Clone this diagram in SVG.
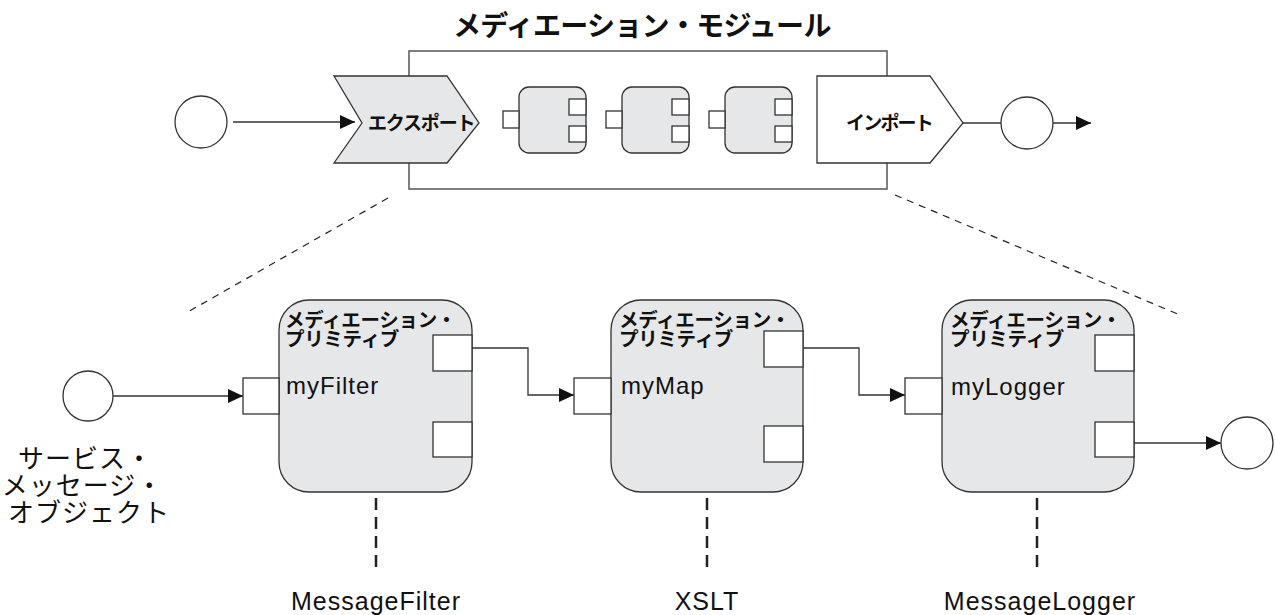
<svg xmlns="http://www.w3.org/2000/svg" width="1275" height="615" viewBox="0 0 1275 615">
  <defs>
    <marker id="arrow" markerUnits="userSpaceOnUse" markerWidth="16" markerHeight="15" refX="15" refY="7" orient="auto">
      <path d="M0,0 L15,7 L0,14 z" fill="#111"/>
    </marker>
  </defs>
  <style>
    .ln { fill: none; stroke: #333; stroke-width: 1.3; }
    .gray { fill: #e6e7e8; stroke: #333; stroke-width: 1.3; }
    .white { fill: #fff; stroke: #333; stroke-width: 1.3; }
    .box { fill: none; stroke: #555; stroke-width: 1.5; }
    .dash { fill: none; stroke: #222; stroke-width: 1.2; stroke-dasharray: 7 6; }
    .vdash { fill: none; stroke: #222; stroke-width: 2.5; stroke-dasharray: 12 7; }
    .jp { font-family: "Noto Sans CJK JP", "Noto Sans", sans-serif; fill: #111; }
    .jpb { font-family: "Noto Sans CJK JP", "Noto Sans", sans-serif; font-weight: bold; fill: #111; }
    .lbl { font-family: "Noto Sans CJK JP", "Noto Sans", sans-serif; font-weight: bold; fill: #111; font-size: 19.5px; letter-spacing: -0.3px; }
    .lat { font-family: "Liberation Sans", Arial, sans-serif; fill: #111; }
  </style>

  <rect width="1275" height="615" fill="#fff"/>

  <!-- Top: mediation module -->
  <g id="module">
    <text class="jpb" x="453" y="36" font-size="28" letter-spacing="-0.7">メディエーション・モジュール</text>
    <rect class="box" x="409" y="51" width="478" height="138"/>
  </g>

  <g id="top-in-circle">
    <circle class="white" cx="201" cy="122" r="26"/>
  </g>

  <g id="export">
    <polygon class="gray" points="334,76 447,76 479,123 447,163 334,163 362,123"/>
    <text class="jpb" x="368" y="130" font-size="19" letter-spacing="-1.2">エクスポート</text>
  </g>

  <g id="mini-primitive-1">
    <rect class="gray" x="519" y="87" width="67" height="66" rx="10"/>
    <rect class="white" x="503" y="111" width="16" height="17"/>
    <rect class="white" x="569" y="99" width="17" height="16"/>
    <rect class="white" x="569" y="126" width="17" height="16"/>
  </g>
  <g id="mini-primitive-2">
    <rect class="gray" x="622" y="87" width="67" height="66" rx="10"/>
    <rect class="white" x="606" y="111" width="16" height="17"/>
    <rect class="white" x="672" y="99" width="17" height="16"/>
    <rect class="white" x="672" y="126" width="17" height="16"/>
  </g>
  <g id="mini-primitive-3">
    <rect class="gray" x="725" y="87" width="67" height="66" rx="10"/>
    <rect class="white" x="709" y="111" width="16" height="17"/>
    <rect class="white" x="775" y="99" width="17" height="16"/>
    <rect class="white" x="775" y="126" width="17" height="16"/>
  </g>

  <g id="import">
    <polygon class="white" points="817,76 930,76 963,123 930,163 817,163"/>
    <text class="jpb" x="846" y="130" font-size="19" letter-spacing="-1.8">インポート</text>
  </g>

  <g id="top-out-circle">
    <circle class="white" cx="1027" cy="123" r="26"/>
  </g>

  <!-- Bottom: primitives -->
  <g id="in-circle">
    <circle class="white" cx="88" cy="396" r="25"/>
    <text class="jp" text-anchor="middle" font-size="26" letter-spacing="1">
      <tspan x="89" y="468">サービス・</tspan>
      <tspan x="86" y="495">メッセージ・</tspan>
      <tspan x="89" y="522">オブジェクト</tspan>
    </text>
  </g>

  <g id="primitive-myFilter">
    <rect class="gray" x="279" y="300" width="193" height="192" rx="30"/>
    <rect class="white" x="243" y="378" width="36" height="36"/>
    <rect class="white" x="433" y="335" width="39" height="36"/>
    <rect class="white" x="433" y="422" width="39" height="35"/>
    <text class="lbl" x="285" y="327">メディエーション・</text>
    <text class="lbl" x="285" y="346">プリミティブ</text>
    <text class="lat" x="286" y="394" font-size="24" letter-spacing="1">myFilter</text>
    <text class="lat" x="376" y="610" font-size="25" letter-spacing="1" text-anchor="middle">MessageFilter</text>
  </g>

  <g id="primitive-myMap">
    <rect class="gray" x="611" y="300" width="192" height="192" rx="30"/>
    <rect class="white" x="574" y="378" width="37" height="36"/>
    <rect class="white" x="764" y="331" width="39" height="36"/>
    <rect class="white" x="764" y="426" width="39" height="36"/>
    <text class="lbl" x="619" y="327">メディエーション・</text>
    <text class="lbl" x="619" y="346">プリミティブ</text>
    <text class="lat" x="621" y="394" font-size="24" letter-spacing="1">myMap</text>
    <text class="lat" x="707" y="610" font-size="25" letter-spacing="1" text-anchor="middle">XSLT</text>
  </g>

  <g id="primitive-myLogger">
    <rect class="gray" x="942" y="300" width="192" height="192" rx="30"/>
    <rect class="white" x="905" y="378" width="37" height="36"/>
    <rect class="white" x="1095" y="335" width="39" height="36"/>
    <rect class="white" x="1095" y="422" width="39" height="35"/>
    <text class="lbl" x="950" y="327">メディエーション・</text>
    <text class="lbl" x="950" y="346">プリミティブ</text>
    <text class="lat" x="951" y="395" font-size="24" letter-spacing="1">myLogger</text>
    <text class="lat" x="1040" y="610" font-size="25" letter-spacing="1" text-anchor="middle">MessageLogger</text>
  </g>

  <g id="out-circle">
    <circle class="white" cx="1247" cy="443" r="26"/>
  </g>

  <!-- Connectors -->
  <g id="connectors">
    <line class="ln" x1="233" y1="122" x2="355" y2="122" marker-end="url(#arrow)"/>
    <line class="ln" x1="963" y1="123" x2="1001" y2="123"/>
    <line class="ln" x1="1053" y1="123" x2="1091" y2="123" marker-end="url(#arrow)"/>
    <line class="ln" x1="113" y1="396" x2="243" y2="396" marker-end="url(#arrow)"/>
    <polyline class="ln" points="472,348 528,348 528,395 574,395" marker-end="url(#arrow)"/>
    <polyline class="ln" points="803,348 859,348 859,395 905,395" marker-end="url(#arrow)"/>
    <line class="ln" x1="1134" y1="443" x2="1221" y2="443" marker-end="url(#arrow)"/>
    <line class="dash" x1="388" y1="198" x2="186" y2="313"/>
    <line class="dash" x1="895" y1="195" x2="1180" y2="315"/>
    <line class="vdash" x1="376" y1="498" x2="376" y2="574"/>
    <line class="vdash" x1="707" y1="498" x2="707" y2="574"/>
    <line class="vdash" x1="1037" y1="498" x2="1037" y2="574"/>
  </g>
</svg>
